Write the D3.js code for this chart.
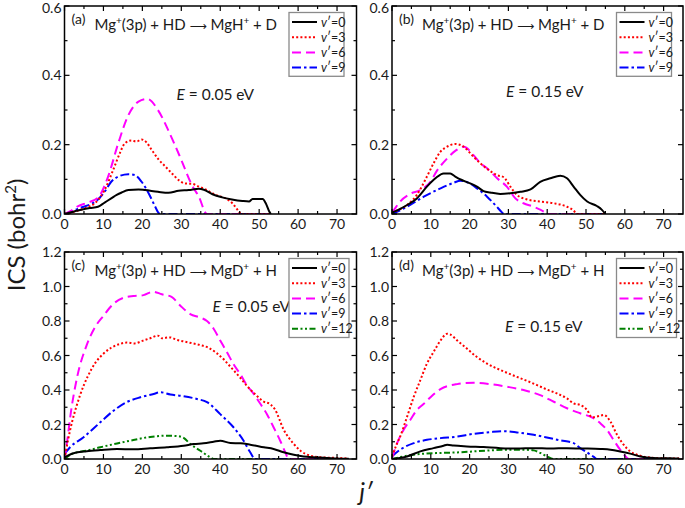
<!DOCTYPE html>
<html><head><meta charset="utf-8">
<script src="https://cdn.jsdelivr.net/npm/d3@7"></script>
<style>body{margin:0;background:#fff}svg{display:block}text{font-family:Lato,"Open Sans",sans-serif;fill:#1a1a1a}</style>
</head><body><svg id="c" width="685" height="508"></svg>
<script>
// ---------- data: [j', ICS] pairs ----------
const xTicks = [0,10,20,30,40,50,60,70];
const yTicksTop = [0.0,0.2,0.4,0.6];
const yTicksBot = [0.0,0.2,0.4,0.6,0.8,1.0,1.2];
const legendTop = ["0","3","6","9"];
const legendBot = ["0","3","6","9","12"];

const a_v0 = [[0,0],[2,0.006],[4.3,0.012],[6.5,0.017],[8.6,0.021],[10.3,0.033],[12,0.045],[13.4,0.055],[14.7,0.062],[16.4,0.069],[19,0.071],[20.7,0.069],[24,0.064],[26.7,0.061],[29.3,0.067],[31.9,0.069],[34.5,0.073],[35.8,0.07],[38,0.057],[40.5,0.048],[43,0.042],[45.7,0.0375],[47.4,0.036],[48.3,0.043],[50.9,0.043],[51.7,0.031],[52.6,0.007],[53,0]];
const a_v3 = [[0,0],[2,0.005],[4.3,0.013],[6,0.02],[7.8,0.031],[10.3,0.069],[12.5,0.127],[14.2,0.175],[15.5,0.204],[17.2,0.212],[18.5,0.209],[19.8,0.215],[21.1,0.206],[22.4,0.185],[24.1,0.158],[25.9,0.137],[27.6,0.117],[29.3,0.098],[31,0.088],[32.8,0.087],[34.5,0.079],[36.2,0.071],[38.8,0.055],[41.4,0.045],[43.1,0.031],[44.8,0.007],[45.3,0],[53,0]];
const a_v6 = [[0,0],[1.5,0.008],[3.4,0.022],[6,0.033],[8.6,0.047],[11.2,0.108],[13.8,0.204],[16.4,0.285],[19,0.324],[21.3,0.332],[24,0.3],[27,0.233],[30,0.156],[32.7,0.084],[34.5,0.05],[36.6,0],[53,0]];
const a_v9 = [[0,0],[2,0.008],[4.3,0.019],[6.9,0.029],[8.6,0.042],[10.3,0.064],[12,0.093],[13.8,0.108],[16.4,0.115],[18.1,0.112],[19.8,0.093],[21.6,0.06],[23.3,0.021],[24.1,0.004],[24.6,0],[53,0]];

const b_v0 = [[0,0.004],[2,0.014],[3.9,0.026],[6.4,0.045],[9,0.079],[11.2,0.103],[13.3,0.117],[15,0.117],[16.3,0.108],[18,0.098],[19.8,0.09],[21.9,0.079],[23.6,0.066],[25.3,0.062],[27.9,0.058],[30.5,0.06],[33.1,0.064],[35.7,0.071],[38.2,0.093],[40.8,0.103],[43.4,0.11],[45.1,0.103],[46.8,0.079],[48.5,0.055],[50.3,0.036],[52.8,0.023],[54.1,0.012],[55,0]];
const b_v3 = [[0,0.004],[1.3,0.01],[3.9,0.026],[6.4,0.055],[9,0.108],[10.7,0.146],[12.5,0.18],[14.2,0.194],[16.3,0.202],[18.5,0.194],[20.6,0.17],[22.8,0.146],[24.9,0.127],[27.1,0.112],[28.8,0.106],[30.5,0.079],[32.2,0.055],[34.8,0.042],[38.2,0.036],[41.7,0.031],[45.1,0.021],[46.8,0.01],[47.7,0],[55,0]];
const b_v6 = [[0,0.004],[0.4,0.01],[2.1,0.036],[4.7,0.058],[7.3,0.069],[9.9,0.093],[11.6,0.125],[14.2,0.16],[16.3,0.182],[18.5,0.194],[21,0.17],[22.8,0.146],[24.5,0.132],[27.1,0.103],[29.6,0.079],[31.8,0.045],[33.9,0.031],[36.5,0.021],[39.1,0.007],[40,0],[55,0]];
const b_v9 = [[0,0],[3.9,0.021],[8.2,0.05],[12.5,0.074],[15.9,0.09],[17.6,0.096],[19.8,0.09],[21.9,0.074],[24.5,0.05],[26.6,0.026],[28.4,0.004],[28.8,0],[55,0]];

const c_v0 = [[0,0.01],[2.3,0.033],[5.7,0.045],[9.2,0.052],[13.5,0.058],[17.7,0.056],[22,0.062],[26.3,0.068],[30.6,0.077],[33.2,0.087],[35.7,0.091],[38.3,0.1],[40,0.106],[42.6,0.093],[45.2,0.091],[47.7,0.083],[51.2,0.068],[53.7,0.058],[56.3,0.039],[58.9,0.025],[61.4,0.015],[64,0.01],[67.4,0.006],[71.7,0.002],[73,0.002]];
const c_v3 = [[0,0],[1,0.12],[2,0.22],[3,0.3],[4,0.37],[5,0.43],[6,0.48],[8,0.56],[10,0.61],[12,0.645],[14,0.665],[16,0.675],[18,0.67],[20,0.685],[22,0.7],[24,0.715],[25,0.7],[27,0.705],[29,0.69],[31,0.68],[33,0.67],[35,0.66],[37,0.645],[39,0.615],[41,0.575],[43,0.525],[45,0.475],[47,0.42],[49,0.375],[51,0.335],[53,0.315],[54,0.29],[56.3,0.17],[58.9,0.087],[60.6,0.048],[63.2,0.019],[66,0.01],[70,0.006],[73,0.003]];
const c_v6 = [[0,0],[0.6,0.09],[1.7,0.28],[3.2,0.47],[5.7,0.66],[8,0.77],[10,0.83],[12.6,0.9],[15.2,0.935],[17.7,0.945],[20.3,0.95],[22.7,0.97],[25,0.955],[27.5,0.94],[29.7,0.89],[32.3,0.84],[34.9,0.82],[36.6,0.8],[38.3,0.755],[40,0.687],[41.7,0.62],[43.4,0.55],[45.2,0.49],[46.9,0.426],[48.6,0.377],[50.3,0.32],[52,0.26],[53.7,0.184],[55.4,0.106],[56.7,0.039],[57.6,0],[73,0]];
const c_v9 = [[0,0.03],[1.5,0.07],[4.9,0.126],[9.2,0.213],[12.6,0.28],[16,0.33],[19.5,0.358],[22.9,0.377],[24.6,0.387],[27.2,0.374],[30.6,0.364],[34,0.348],[36.6,0.33],[40,0.26],[43.4,0.184],[46,0.106],[47.7,0.039],[49,0],[73,0]];
const c_v12 = [[0,0],[2.3,0.033],[5.7,0.048],[9.2,0.068],[13.5,0.09],[17.7,0.11],[22,0.128],[26.3,0.135],[28.9,0.133],[30.6,0.122],[32.3,0.087],[34.9,0.048],[37.4,0.01],[38.3,0],[73,0]];

const d_v0 = [[0,0],[3.9,0.015],[7.3,0.044],[10.7,0.063],[13.3,0.077],[14.2,0.083],[15.9,0.078],[19.3,0.073],[23.6,0.069],[27.9,0.063],[32.2,0.061],[36.5,0.063],[40.8,0.061],[45.1,0.063],[49.4,0.061],[53.7,0.058],[56.3,0.054],[58.8,0.044],[61.4,0.031],[64,0.015],[67.4,0.006],[71.7,0.004],[74,0.003]];
const d_v3 = [[0,0.015],[1.3,0.09],[2.1,0.13],[3.9,0.246],[5.6,0.36],[7.3,0.457],[9,0.553],[10.7,0.62],[12.5,0.687],[14.2,0.726],[15,0.722],[16.8,0.687],[19.3,0.64],[21.9,0.591],[24.5,0.553],[27.1,0.524],[29.6,0.5],[32.2,0.476],[34.8,0.453],[37.4,0.428],[39.9,0.403],[42.5,0.38],[45.1,0.351],[46.8,0.323],[48.5,0.313],[50.3,0.284],[51.5,0.242],[52.8,0.246],[54.6,0.255],[56.3,0.217],[58,0.14],[59.7,0.083],[61.4,0.044],[64,0.019],[66.6,0.008],[70,0.004],[74,0.003]];
const d_v6 = [[0,0.006],[1.3,0.09],[3,0.17],[4.7,0.226],[6.4,0.284],[8.2,0.32],[10,0.36],[12.5,0.405],[16.8,0.434],[21,0.442],[25.3,0.434],[29.6,0.419],[33.9,0.4],[38.2,0.37],[41.7,0.332],[45.1,0.294],[48.5,0.265],[52,0.236],[53.7,0.207],[55.4,0.169],[57.1,0.111],[58.8,0.054],[60.6,0.006],[61,0],[74,0]];
const d_v9 = [[0,0.015],[2.1,0.054],[5.6,0.092],[9,0.111],[12.5,0.121],[16.8,0.13],[21,0.146],[25.3,0.156],[28.8,0.161],[32.2,0.154],[36.5,0.14],[39.9,0.125],[43.4,0.108],[46.8,0.092],[48.5,0.063],[50.3,0.038],[52,0.012],[52.8,0],[74,0]];
const d_v12 = [[0,0],[3.9,0.019],[8.2,0.031],[12.5,0.035],[16.8,0.038],[21,0.044],[25.3,0.05],[29.6,0.054],[33.9,0.054],[36.5,0.05],[38.2,0.035],[39.9,0.015],[41.7,0],[74,0]];

// ---------- styles ----------
const styles = {
  "0":  {color:"#000000", dash:null},
  "3":  {color:"#ff0000", dash:"2,2.2"},
  "6":  {color:"#ff00ff", dash:"9,5"},
  "9":  {color:"#0000ff", dash:"9,3,2.5,3"},
  "12": {color:"#008000", dash:"6,2.5,2,2.5,2,2.5"}
};

const panels = [
  {tag:"(a)", prod:"MgH", other:"D", E:"0.05", x0:64.5, x1:356.5, y0:6,   y1:214, ymax:0.6, yt:yTicksTop, leg:legendTop, ex:112, ey:94,
   series:{"0":a_v0,"3":a_v3,"6":a_v6,"9":a_v9}},
  {tag:"(b)", prod:"MgH", other:"D", E:"0.15", x0:392,  x1:683,   y0:6,   y1:214, ymax:0.6, yt:yTicksTop, leg:legendTop, ex:114, ey:91,
   series:{"0":b_v0,"3":b_v3,"6":b_v6,"9":b_v9}},
  {tag:"(c)", prod:"MgD", other:"H", E:"0.05", x0:64.5, x1:356.5, y0:252, y1:459, ymax:1.2, yt:yTicksBot, leg:legendBot, ex:148, ey:60,
   series:{"0":c_v0,"3":c_v3,"6":c_v6,"9":c_v9,"12":c_v12}},
  {tag:"(d)", prod:"MgD", other:"H", E:"0.15", x0:392,  x1:683,   y0:252, y1:459, ymax:1.2, yt:yTicksBot, leg:legendBot, ex:113, ey:80,
   series:{"0":d_v0,"3":d_v3,"6":d_v6,"9":d_v9,"12":d_v12}}
];

const svg = d3.select("#c");

panels.forEach(p => {
  const x = d3.scaleLinear().domain([0,75]).range([p.x0,p.x1]);
  const y = d3.scaleLinear().domain([0,p.ymax]).range([p.y1,p.y0]);
  const g = svg.append("g");

  const clipId = "clip"+p.tag.replace(/\W/g,"");
  svg.append("clipPath").attr("id",clipId).append("rect")
    .attr("x",p.x0).attr("y",p.y0).attr("width",p.x1-p.x0).attr("height",p.y1-p.y0);

  // curves
  const line = d3.line().x(d=>x(d[0])).y(d=>y(d[1])).curve(d3.curveMonotoneX);
  const order = Object.keys(p.series).sort((a,b)=>(+b)-(+a));
  order.forEach(k => {
    g.append("path").attr("d", line(p.series[k])).attr("clip-path","url(#"+clipId+")")
      .attr("fill","none").attr("stroke",styles[k].color).attr("stroke-width",2)
      .attr("stroke-dasharray",styles[k].dash);
  });

  // ticks (inward, all four sides)
  const xMinor = d3.range(5,75,10);
  const yMinor = d3.range(0.1,p.ymax,0.2);
  const tk = (x1,y1,x2,y2)=>g.append("line").attr("x1",x1).attr("y1",y1).attr("x2",x2).attr("y2",y2).attr("stroke","#000").attr("stroke-width",1.2);
  xTicks.forEach(t=>{ tk(x(t),p.y1,x(t),p.y1-5); tk(x(t),p.y0,x(t),p.y0+5); });
  xMinor.forEach(t=>{ tk(x(t),p.y1,x(t),p.y1-3); tk(x(t),p.y0,x(t),p.y0+3); });
  p.yt.forEach(t=>{ tk(p.x0,y(t),p.x0+5,y(t)); tk(p.x1,y(t),p.x1-5,y(t)); });
  yMinor.forEach(t=>{ tk(p.x0,y(t),p.x0+3,y(t)); tk(p.x1,y(t),p.x1-3,y(t)); });

  // frame
  g.append("rect").attr("x",p.x0).attr("y",p.y0).attr("width",p.x1-p.x0).attr("height",p.y1-p.y0)
    .attr("fill","none").attr("stroke","#000").attr("stroke-width",1.5);

  // tick labels
  g.selectAll(".xl").data(xTicks).enter().append("text")
    .attr("x",d=>x(d)).attr("y",p.y1+15).attr("text-anchor","middle").attr("font-size",14).text(d=>d);
  g.selectAll(".yl").data(p.yt).enter().append("text")
    .attr("x",p.x0-3).attr("y",d=>Math.max(y(d)+5,13)).attr("text-anchor","end").attr("font-size",14).text(d=>d.toFixed(1));

  // panel tag and title
  g.append("text").attr("x",p.x0+7).attr("y",p.y0+17.5).attr("font-size",14).text(p.tag);
  const t = g.append("text").attr("x",p.x0+30).attr("y",p.y0+24).attr("font-size",15);
  t.append("tspan").text("Mg");
  t.append("tspan").attr("font-size",10).attr("dy",-6).text("+");
  t.append("tspan").attr("dy",6).text("(3p) + HD ");
  t.append("tspan").attr("font-family","DejaVu Sans").attr("font-size",12).text("\u27F6");
  t.append("tspan").text(" "+p.prod);
  t.append("tspan").attr("font-size",10).attr("dy",-6).text("+");
  t.append("tspan").attr("dy",6).text(" + "+p.other);

  // energy label
  const e = g.append("text").attr("x",p.x0+p.ex).attr("y",p.y0+p.ey).attr("font-size",15.5);
  e.append("tspan").attr("font-style","italic").text("E");
  e.append("tspan").text(" = "+p.E+" eV");

  // legend
  const lx = p.x0+224.5, ly = p.y0+6.5, lw = p.leg.length>4?60:55, lh = p.leg.length*15.2+3;
  g.append("rect").attr("x",lx).attr("y",ly).attr("width",lw).attr("height",lh)
    .attr("fill","#fff").attr("stroke","#8a8a8a").attr("stroke-width",1.3);
  p.leg.forEach((k,i)=>{
    const yy = ly + 9.5 + i*15.2;
    g.append("line").attr("x1",lx+3).attr("x2",lx+28).attr("y1",yy).attr("y2",yy)
      .attr("stroke",styles[k].color).attr("stroke-width",2).attr("stroke-dasharray",styles[k].dash);
    const tt = g.append("text").attr("x",lx+32).attr("y",yy+4.5).attr("font-size",12.5);
    tt.append("tspan").attr("font-style","italic").text("v");
    tt.append("tspan").text("\u2032="+k);
  });
});

// axis titles
const yl = svg.append("text").attr("transform","translate(25,235) rotate(-90)").attr("text-anchor","middle").attr("font-size",24);
yl.append("tspan").text("ICS (bohr");
yl.append("tspan").attr("font-size",15).attr("dy",-9).text("2");
yl.append("tspan").attr("dy",9).text(")");
svg.append("text").attr("x",366).attr("y",501).attr("text-anchor","middle").attr("font-size",25).attr("font-style","italic").text("j\u2032");
</script></body></html>
